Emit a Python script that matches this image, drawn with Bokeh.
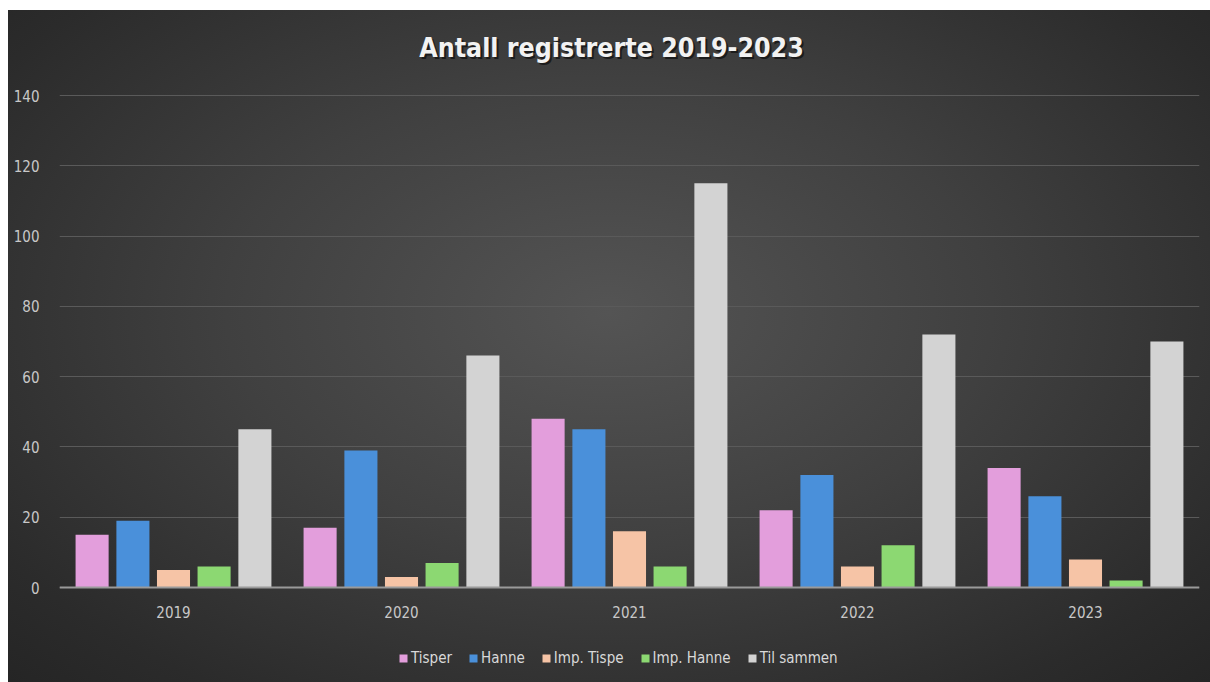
from bokeh.plotting import figure
from bokeh.models import (ColumnDataSource, FactorRange, Range1d, Legend, LegendItem,
                          InlineStyleSheet, FixedTicker, Label)
from bokeh.transform import dodge
from bokeh.embed import file_html
from bokeh.resources import INLINE

years = ["2019", "2020", "2021", "2022", "2023"]
tisper = [15, 17, 48, 22, 34]
hanne = [19, 39, 45, 32, 26]
imp_tispe = [5, 3, 16, 6, 8]
imp_hanne = [6, 7, 6, 12, 2]
til_sammen = [45, 66, 115, 72, 70]
y_ticks = [0, 20, 40, 60, 80, 100, 120, 140]
title_text = "Antall registrerte 2019-2023"

series_names = ["Tisper", "Hanne", "Imp. Tispe", "Imp. Hanne", "Til sammen"]
series_keys = ["tisper", "hanne", "imp_tispe", "imp_hanne", "til_sammen"]
colors = ["#E39EDC", "#4A90DA", "#F6C4A6", "#8CD872", "#D3D3D3"]
offsets = [-0.357, -0.178, 0.0, 0.178, 0.357]

source = ColumnDataSource(dict(year=years, tisper=tisper, hanne=hanne,
                               imp_tispe=imp_tispe, imp_hanne=imp_hanne,
                               til_sammen=til_sammen))

FONT = "DejaVu Sans Condensed"

p = figure(x_range=FactorRange(*years), y_range=Range1d(-27.03, 164.19),
           width=1202, height=672, output_backend="svg", toolbar_location=None,
           min_border_left=51, min_border_right=11, min_border_top=0, min_border_bottom=0)

p.stylesheets = [InlineStyleSheet(css=":host { margin-left: 8px; margin-top: 10px; background: radial-gradient(ellipse at 50% 45%, #545454 0%, #404040 45%, #2b2b2b 85%, #252525 100%); }")]
p.background_fill_alpha = 0
p.border_fill_alpha = 0
p.outline_line_color = None
p.title.visible = False

items = []
for key, name, col, off in zip(series_keys, series_names, colors, offsets):
    r = p.vbar(x=dodge("year", off, range=p.x_range), top=key, bottom=0, width=0.145,
               source=source, fill_color=col, line_color=None)
    items.append(LegendItem(label=name, renderers=[r]))

# title with a soft drop shadow
shadow = Label(x=554, y=633, x_units="screen", y_units="screen", text=title_text,
               text_align="center", text_baseline="middle", text_color="#111111",
               text_alpha=0.75, text_font=FONT, text_font_style="bold",
               text_font_size="26.5px")
title = Label(x=552, y=635, x_units="screen", y_units="screen", text=title_text,
              text_align="center", text_baseline="middle", text_color="#F2F2F2",
              text_font=FONT, text_font_style="bold", text_font_size="26.5px")
p.add_layout(shadow)
p.add_layout(title)

p.yaxis.ticker = FixedTicker(ticks=y_ticks)
p.yaxis.axis_line_color = None
p.yaxis.major_tick_line_color = None
p.yaxis.minor_tick_line_color = None
p.yaxis.major_label_text_color = "#C8C8C8"
p.yaxis.major_label_text_font = FONT
p.yaxis.major_label_text_font_size = "15px"
p.yaxis.major_label_standoff = 14

p.xaxis.fixed_location = 0
p.xaxis.axis_line_color = "#9A9A9A"
p.xaxis.axis_line_width = 2
p.xaxis.major_tick_line_color = None
p.xaxis.minor_tick_line_color = None
p.xaxis.major_label_text_color = "#C8C8C8"
p.xaxis.major_label_text_font = FONT
p.xaxis.major_label_text_font_size = "15px"
p.xaxis.major_label_standoff = 12

p.xgrid.grid_line_color = None
p.ygrid.grid_line_color = "#5A5A5A"
p.ygrid.grid_line_width = 1

legend = Legend(items=items, orientation="horizontal", location=(339, 15))
legend.background_fill_alpha = 0
legend.border_line_color = None
legend.label_text_color = "#D9D9D9"
legend.label_text_font = FONT
legend.label_text_font_size = "15px"
legend.glyph_width = 10
legend.glyph_height = 10
legend.label_standoff = 3
legend.spacing = 16
legend.padding = 4
legend.margin = 0
p.add_layout(legend, "center")

open("out.html", "w").write(file_html(p, INLINE))
